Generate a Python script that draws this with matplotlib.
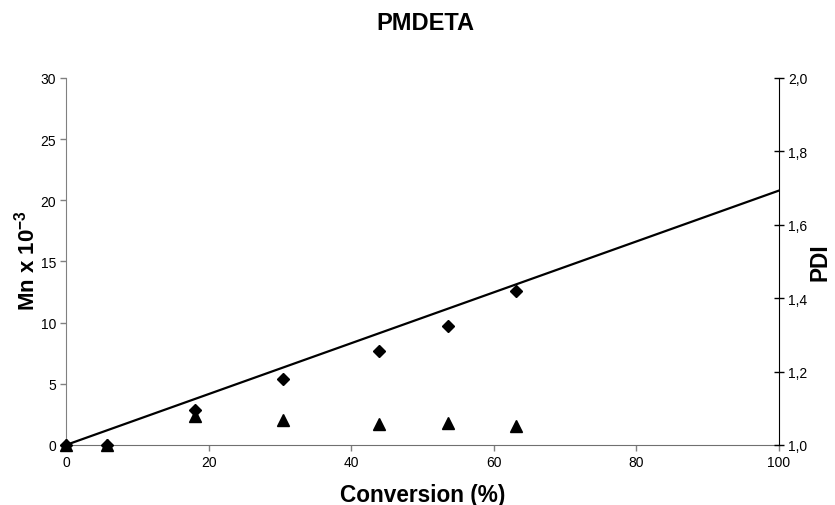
import matplotlib
matplotlib.use("Agg")
import matplotlib.pyplot as plt
from matplotlib.ticker import FuncFormatter, MultipleLocator

plt.rcParams.update({
    "font.family": ["Liberation Sans", "DejaVu Sans"],
    "mathtext.fontset": "custom",
    "mathtext.rm": "Liberation Sans",
    "mathtext.bf": "Liberation Sans:bold",
})

# Kinetics data, PMDETA ligand
conversion = [0, 5.8, 18.1, 30.5, 43.9, 53.6, 63.1]   # %
mn = [0, 0, 2.9, 5.4, 7.7, 9.7, 12.6]                  # Mn x 10^-3
pdi = [1.0, 1.0, 1.078, 1.067, 1.057, 1.061, 1.052]

# theoretical Mn line
theory_x = [0, 100]
theory_mn = [0, 20.8]

fig = plt.figure(figsize=(8.35, 5.06), dpi=100)
ax = fig.add_axes([0.079, 0.1186, 0.854, 0.7253])
ax2 = ax.twinx()

ax.plot(theory_x, theory_mn, color="black", linewidth=1.6, zorder=2)
ax.plot(conversion, mn, linestyle="none", marker="D", markersize=5.8,
        color="black", zorder=3, clip_on=False)
ax2.plot(conversion, pdi, linestyle="none", marker="^", markersize=8.5,
         color="black", zorder=3, clip_on=False)

ax.set_xlim(0, 100)
ax.set_ylim(0, 30)
ax2.set_ylim(1.0, 2.0)
ax.xaxis.set_major_locator(MultipleLocator(20))
ax.yaxis.set_major_locator(MultipleLocator(5))
ax2.yaxis.set_major_locator(MultipleLocator(0.2))
ax2.yaxis.set_major_formatter(FuncFormatter(lambda v, _: f"{v:.1f}".replace(".", ",")))

for a in (ax, ax2):
    a.spines["top"].set_visible(False)
    a.set_facecolor("none")
ax.spines["left"].set_color("#808080")
ax.spines["bottom"].set_color("#707070")
ax.spines["right"].set_visible(False)
ax2.spines["left"].set_visible(False)
ax2.spines["bottom"].set_visible(False)
ax2.spines["right"].set_color("black")
ax.tick_params(axis="both", direction="out", length=4, width=1,
               color="#808080", labelsize=10, pad=3)
ax2.tick_params(axis="y", direction="inout", length=7, width=1,
                color="black", labelsize=10, pad=3)

ax.set_xlabel("Conversion (%)", fontsize=16.3, fontweight="bold")
ax.xaxis.set_label_coords(0.5, -0.104)
ax.set_ylabel(r"Mn x 10$^{\mathbf{-3}}$", fontsize=16, fontweight="bold")
ax.yaxis.set_label_coords(-0.037, 0.505)
ax2.set_ylabel("PDI", fontsize=16.3, fontweight="bold", rotation=90)
ax2.yaxis.set_label_coords(1.0407, 0.5)

fig.text(0.509, 1 - 24 / 506, "PMDETA", fontsize=17, fontweight="bold",
         ha="center", va="center")

fig.savefig("out.png", dpi=100)
